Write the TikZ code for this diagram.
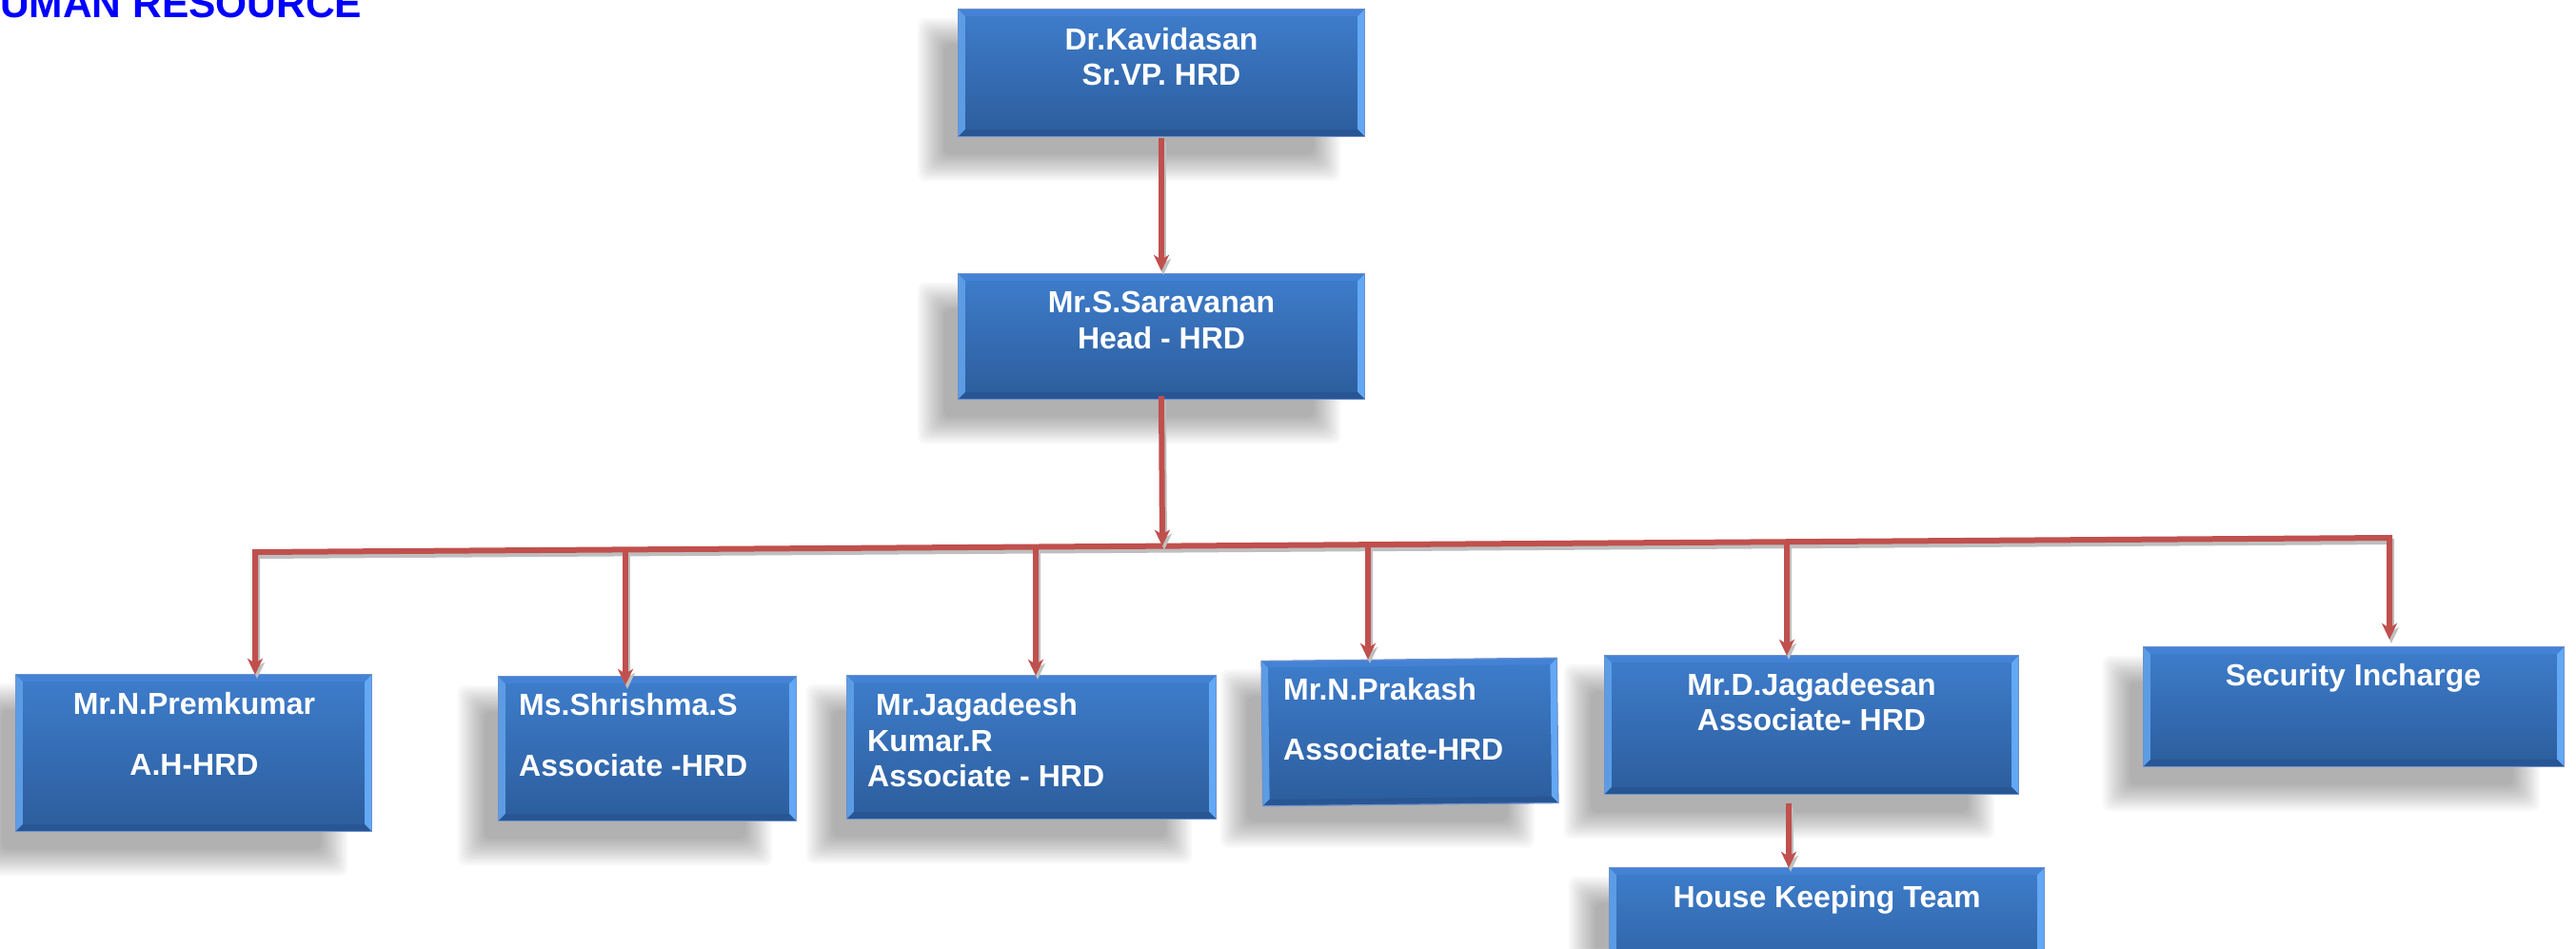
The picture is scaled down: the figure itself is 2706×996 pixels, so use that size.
\documentclass[tikz,border=0pt]{standalone}
\usepackage{fontspec}
\setmainfont{Liberation Sans}
\usetikzlibrary{arrows.meta,calc}
\pgfdeclarelayer{paperlayer}
\pgfdeclarelayer{shadowlayer}
\pgfsetlayers{paperlayer,shadowlayer,main}
\definecolor{conred}{RGB}{192,80,77}
\definecolor{consh}{RGB}{190,190,190}
\definecolor{boxtop}{RGB}{62,125,204}
\definecolor{boxbot}{RGB}{44,93,156}
\definecolor{bevl}{RGB}{92,156,228}
\definecolor{bevr}{RGB}{98,168,245}
\definecolor{bevt}{RGB}{68,130,214}
\definecolor{bevb}{RGB}{40,86,148}
\definecolor{boxedge}{RGB}{110,145,205}
\newcommand\bevelbox[1]{%
  \fill[bevl] (#1.north west) -- ($(#1.north west)+(7,7)$) -- ($(#1.south west)+(7,-7)$) -- (#1.south west) -- cycle;
  \fill[bevr] (#1.north east) -- ($(#1.north east)+(-7,7)$) -- ($(#1.south east)+(-7,-7)$) -- (#1.south east) -- cycle;
  \fill[bevt] (#1.north west) -- (#1.north east) -- ($(#1.north east)+(-7,7)$) -- ($(#1.north west)+(7,7)$) -- cycle;
  \fill[bevb] (#1.south west) -- (#1.south east) -- ($(#1.south east)+(-7,-7)$) -- ($(#1.south west)+(7,-7)$) -- cycle;
  \draw[boxedge, line width=1.2pt] (#1.north west) -- (#1.north east) -- (#1.south east) -- (#1.south west) -- cycle;
}
\newcommand\boxshadow[1]{%
  \begin{pgfonlayer}{shadowlayer}
  \foreach \k in {0,...,11}{%
    \pgfmathsetmacro\dd{15-2.5*\k}%
    \fill[black, opacity=0.028, rounded corners=8pt] ($(#1.north west)+({-28-(\dd)},{24-(\dd)})$) rectangle ($(#1.south east)+({-40+(\dd)},{32+(\dd)})$);
  }
  \end{pgfonlayer}}
\newcommand\connector[2]{%
  \draw[connsh,#1] #2;
  \draw[conn,#1] #2;}
\tikzset{
  >={Stealth[length=17pt,width=16pt,inset=5pt]},
  orgbox/.style={top color=boxtop, bottom color=boxbot, inner sep=0pt, draw=none},
  conn/.style={draw=conred, line width=6pt},
  connsh/.style={draw=consh, line width=6pt, transform canvas={shift={(2pt,-4pt)}}},
  txt/.style={text=white, font=\fontsize{32pt}{38pt}\selectfont\bfseries, inner sep=0pt},
  ctxt/.style={txt, anchor=base},
  ltxt/.style={txt, anchor=base west},
}
\begin{document}
\begin{tikzpicture}[x=1pt,y=-1pt]
\useasboundingbox (0,0) rectangle (2706,996);
\begin{pgfonlayer}{paperlayer}
\fill[white] (0,0) rectangle (2706,996);
\end{pgfonlayer}

\node[anchor=base west, text=blue, font=\fontsize{42.5pt}{50pt}\selectfont\bfseries, inner sep=0pt] (title) at (0,18) {UMAN RESOURCE};

% boxes
\node[orgbox, minimum width=426pt, minimum height=133pt] (kav) at (1220,76.5) {};
\node[orgbox, minimum width=426pt, minimum height=131pt] (sar) at (1220,353.5) {};
\node[orgbox, minimum width=373pt, minimum height=164pt] (prem) at (203.5,791) {};
\node[orgbox, minimum width=312pt, minimum height=151pt] (shri) at (680,786.5) {};
\node[orgbox, minimum width=387pt, minimum height=150pt] (jag) at (1083.5,785) {};
\node[orgbox, minimum width=310pt, minimum height=152pt, rotate=0.6] (prak) at (1481,769) {};
\node[orgbox, minimum width=434pt, minimum height=145pt] (djag) at (1903,761.5) {};
\node[orgbox, minimum width=441pt, minimum height=125pt] (sec) at (2472.5,742.5) {};
\node[orgbox, minimum width=456pt, minimum height=128pt] (hk) at (1919,976) {};

\foreach \b in {kav,sar,prem,shri,jag,prak,djag,sec,hk}{\boxshadow{\b}\bevelbox{\b}}

% texts
\node[ctxt] (kav1) at (1220,52) {Dr.Kavidasan};
\node[ctxt] (kav2) at (1220,89) {Sr.VP. HRD};
\node[ctxt] (sar1) at (1220,328) {Mr.S.Saravanan};
\node[ctxt] (sar2) at (1220,366) {Head - HRD};
\node[ctxt] (prem1) at (204,750) {Mr.N.Premkumar};
\node[ctxt] (prem2) at (204,814) {A.H-HRD};
\node[ltxt] (shri1) at (545,751) {Ms.Shrishma.S};
\node[ltxt] (shri2) at (545,815) {Associate -HRD};
\node[ltxt] (jag1) at (920,751) {Mr.Jagadeesh};
\node[ltxt] (jag2) at (911,789) {Kumar.R};
\node[ltxt] (jag3) at (911,826) {Associate - HRD};
\node[ltxt] (prak1) at (1348,735) {Mr.N.Prakash};
\node[ltxt] (prak2) at (1348,798) {Associate-HRD};
\node[ctxt] (djag1) at (1903,730) {Mr.D.Jagadeesan};
\node[ctxt] (djag2) at (1903,767) {Associate- HRD};
\node[ctxt] (sec1) at (2472,720) {Security Incharge};
\node[ctxt] (hk1) at (1919,953) {House Keeping Team};

% bus coordinates
\coordinate (busL) at (268,580);
\coordinate (busR) at (2510,565);
\coordinate (bShri) at (657,577.4);
\coordinate (bJag) at (1088,574.5);
\coordinate (bSar) at (1221,573.6);
\coordinate (bPrak) at (1437,572.2);
\coordinate (bDjag) at (1877,569.2);

% connectors
\connector{<->, shorten >=8pt}{(busL |- prem.north) -- (busL) -- (busR) -- (busR |- sec.north)}
\connector{->, shorten >=-9pt}{(bShri) -- (bShri |- shri.north)}
\connector{->}{(bJag) -- (bJag |- jag.north)}
\connector{->}{(bPrak) -- (bPrak |- prak.north)}
\connector{->}{(bDjag) -- (bDjag |- djag.north)}
\connector{->, shorten <=-3pt}{(sar.south) -- (bSar)}
\connector{->, shorten <=2pt, shorten >=3pt}{(kav.south) -- (sar.north)}
\connector{->, shorten <=10pt}{([xshift=-24pt]djag.south) -- ([xshift=-24pt]djag.south |- hk.north)}
\end{tikzpicture}
\end{document}
